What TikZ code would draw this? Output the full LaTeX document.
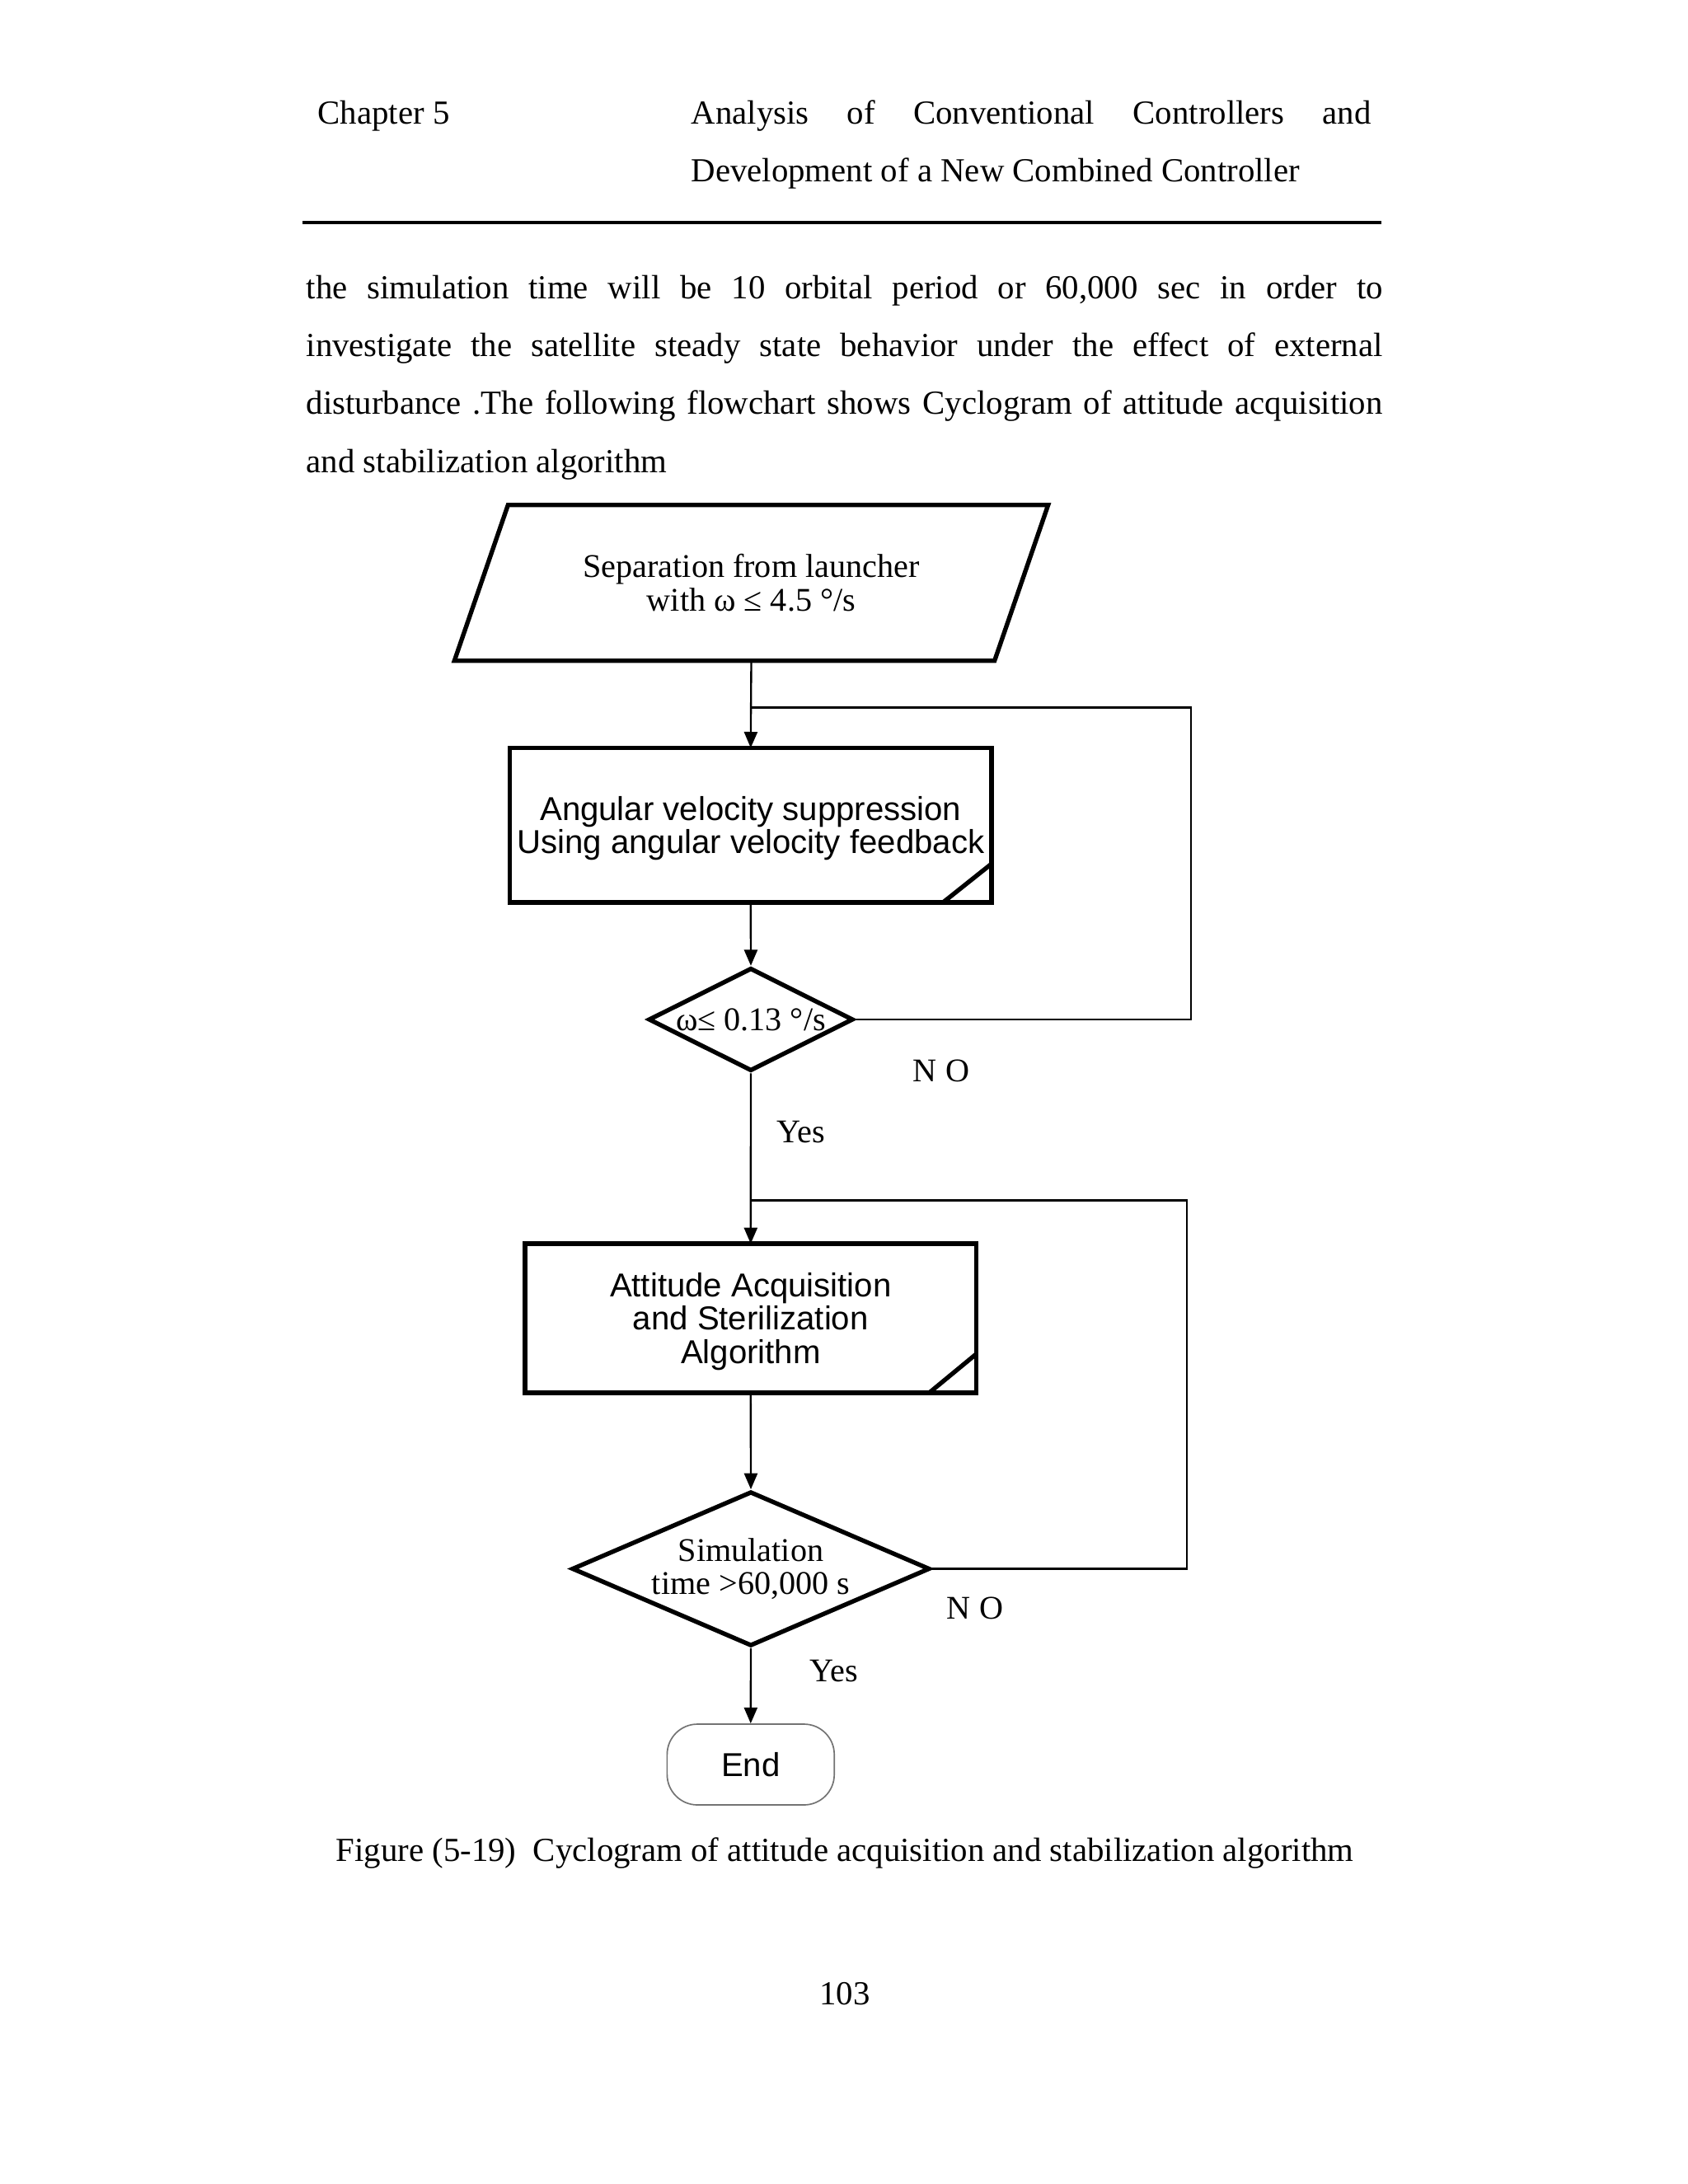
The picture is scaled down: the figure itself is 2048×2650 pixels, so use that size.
\documentclass[tikz,border=0pt]{standalone}
\usepackage{fontspec}
\setmainfont{Liberation Serif}
\setsansfont{Liberation Sans}
\usetikzlibrary{arrows.meta,calc,shapes.geometric}
\newdimen\pxu
\pxu=0.298828pt
\tikzset{
  flow/.style={line width=0.7pt},
  arr/.style={flow,-{Triangle[width=4.8pt,length=5.8pt]}},
  blk/.style={draw,line width=1.6pt,outer sep=0pt,inner sep=0pt,align=center,font=\sffamily\fontsize{12}{12.1}\selectfont},
  dec/.style={diamond,draw,line width=1.6pt,inner sep=0pt},
  rm/.style={font=\fontsize{12}{12.1}\selectfont,align=center,inner sep=0pt},
  txt/.style={font=\fontsize{12.2}{14}\selectfont,inner sep=0pt,anchor=base west}
}

\begin{document}
\begin{tikzpicture}[x=0.298828pt,y=-0.298828pt]
\useasboundingbox[fill=white] (0,0) rectangle (2048,2650);

\node[txt] (chap) at (385,150) {Chapter 5};
\node[txt] (head1) at (838,150) {\makebox[825\pxu][s]{Analysis of Conventional Controllers and}};
\node[txt] (head2) at (838,220) {Development of a New Combined Controller};
\draw[line width=1.2pt] (367,270) -- (1676,270);

\node[txt] (par1) at (371,362.7) {\makebox[1306\pxu][s]{the simulation time will be 10 orbital period or 60,000 sec in order to}};
\node[txt] (par2) at (371,432.8) {\makebox[1306\pxu][s]{investigate the satellite steady state behavior under the effect of external}};
\node[txt] (par3) at (371,502.9) {\makebox[1306\pxu][s]{disturbance .The following flowchart shows Cyclogram of attitude acquisition}};
\node[txt] (par4) at (371,573) {and stabilization algorithm};

\node[rm, minimum width=654*\pxu, minimum height=187.6*\pxu] (sep) at (911.5,707.2) {Separation from launcher\\with ω ≤ 4.5 °/s};
\draw[line width=1.6pt] ($(sep.north west)+(32.5,0)$) -- ($(sep.north east)+(32.5,0)$) -- ($(sep.south east)+(-32.5,0)$) -- ($(sep.south west)+(-32.5,0)$) -- cycle;

\node[blk, minimum width=584.6*\pxu, minimum height=187.6*\pxu] (supp) at (910.8,1001.2) {\rule{0pt}{11pt}Angular velocity suppression\\Using angular velocity feedback};
\draw[line width=1.6pt] ($(supp.south east)+(-59,0)$) -- ($(supp.south east)+(0,-47)$);

\node[dec, minimum width=248.4*\pxu, minimum height=125.1*\pxu] (chk1) at (911,1237) {};
\node[rm] (chk1t) at (chk1) {ω≤ 0.13 °/s};

\node[blk, minimum width=547.5*\pxu, minimum height=180.8*\pxu] (algo) at (910.8,1599.4) {\rule{0pt}{11pt}Attitude Acquisition\\and Sterilization\\Algorithm};
\draw[line width=1.6pt] ($(algo.south east)+(-57,0)$) -- ($(algo.south east)+(0,-47)$);

\node[dec, minimum width=434.3*\pxu, minimum height=187.5*\pxu] (chk2) at (911,1903.5) {};
\node[rm] (chk2t) at (chk2) {Simulation\\time >60,000 s};

\node[draw=black!55, line width=0.5pt, rounded corners=11pt, minimum width=202.8*\pxu, minimum height=98*\pxu, inner sep=0pt, font=\sffamily\fontsize{12}{12.1}\selectfont] (end) at (910.8,2141) {End};

\node[rm] (no1) at (1142,1299.5) {N O};
\node[rm] (yes1) at (971.6,1373.8) {Yes};
\node[rm] (no2) at (1183,1951.7) {N O};
\node[rm] (yes2) at (1012,2027.8) {Yes};

\coordinate (j1) at (911,858.4);
\coordinate (r1) at (1444.8,858.4);
\coordinate (j2) at (911,1456.6);
\coordinate (r2) at (1439.7,1456.6);

\draw[arr] (sep.south) -- (supp.north);
\draw[arr] (supp.south) -- (chk1.north);
\draw[flow] (chk1.east) -| (r1) -- (j1);
\draw[arr] (chk1.south) -- (algo.north);
\draw[arr] (algo.south) -- (chk2.north);
\draw[flow] (chk2.east) -| (r2) -- (j2);
\draw[arr] (chk2.south) -- (end.north);

\node[font=\fontsize{12.2}{14}\selectfont, inner sep=0pt, anchor=base] (cap) at (1025,2258) {Figure (5-19)\ \ Cyclogram of attitude acquisition and stabilization algorithm};
\node[font=\fontsize{12.2}{14}\selectfont, inner sep=0pt, anchor=base] (pgno) at (1025,2432.7) {103};
\end{tikzpicture}
\end{document}
